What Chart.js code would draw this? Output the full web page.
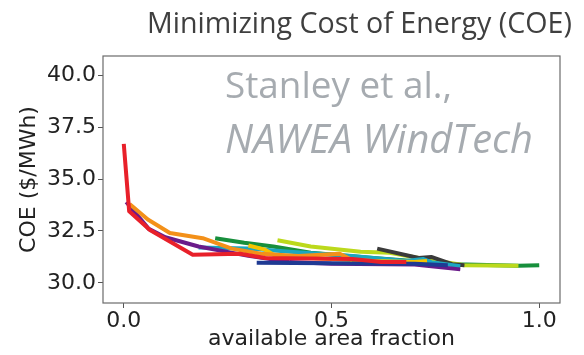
<!DOCTYPE html>
<html>
<head>
<meta charset="utf-8">
<script src="https://cdn.jsdelivr.net/npm/chart.js@4/dist/chart.umd.min.js"></script>
<style>
  html, body { margin: 0; padding: 0; background: #fff; }
</style>
</head>
<body>
<canvas id="chart" width="584" height="355"></canvas>
<script>
'use strict';

// curves: available area fraction vs COE ($/MWh)
const redX    = [0.0, 0.013, 0.063, 0.166, 0.28, 0.34, 0.55, 0.62, 0.68];
const redY    = [36.7, 33.45, 32.55, 31.35, 31.4, 31.2, 31.15, 31.0, 31.0];
const orangeX = [0.014, 0.058, 0.111, 0.19, 0.26, 0.33, 0.42, 0.52, 0.55];
const orangeY = [33.8, 33.05, 32.4, 32.15, 31.65, 31.4, 31.3, 31.4, 31.1];
const purpleX = [0.006, 0.06, 0.10, 0.18, 0.3, 0.4, 0.5, 0.7, 0.81];
const purpleY = [33.9, 32.6, 32.2, 31.75, 31.3, 31.0, 30.92, 30.88, 30.65];
const blueX   = [0.32, 0.5, 0.7, 0.78];
const blueY   = [30.97, 30.95, 30.92, 30.85];
const goldX   = [0.30, 0.34, 0.37, 0.45, 0.6, 0.7, 0.73];
const goldY   = [31.8, 31.6, 31.25, 31.2, 31.05, 31.0, 31.05];
const tealX   = [0.18, 0.3, 0.4, 0.55, 0.68, 0.72, 0.74, 0.81];
const tealY   = [31.7, 31.65, 31.5, 31.3, 31.05, 31.15, 31.0, 30.8];
const grayX   = [0.61, 0.71, 0.74, 0.79, 0.82];
const grayY   = [31.65, 31.2, 31.25, 30.9, 30.85];
const limeX   = [0.37, 0.45, 0.57, 0.64, 0.71, 0.82, 0.95];
const limeY   = [32.05, 31.75, 31.5, 31.45, 31.2, 30.85, 30.82];
const greenX  = [0.22, 0.29, 0.36, 0.45, 0.6, 0.8, 0.95, 1.0];
const greenY  = [32.15, 31.93, 31.75, 31.45, 31.2, 30.9, 30.82, 30.85];

const xTicks = [0.0, 0.5, 1.0];
const yTicks = [30.0, 32.5, 35.0, 37.5, 40.0];

const titleText = 'Minimizing Cost of Energy (COE)';
const noteLines = ['Stanley et al.,', 'NAWEA WindTech'];

function pts(xs, ys) {
    return xs.map((x, i) => ({x: x, y: ys[i]}));
}

function series(xs, ys, color) {
    return {
        data: pts(xs, ys),
        borderColor: color,
        backgroundColor: color,
        borderWidth: 4,
        pointRadius: 0,
        tension: 0,
        borderJoinStyle: 'round',
        borderCapStyle: 'butt',
    };
}

// fit a font size so a string spans the width it has in the picture
function fitFont(ctx, text, style, family, width) {
    ctx.font = style + ' 30px ' + family;
    let w = ctx.measureText(text).width;
    return style + ' ' + (30 * width / w).toFixed(2) + 'px ' + family;
}

let framePlugin = {
    id: 'frame',
    afterDraw: function(chart) {
        let ctx = chart.ctx;
        let a = chart.chartArea;
        ctx.save();
        ctx.strokeStyle = '#6b6b6b';
        ctx.lineWidth = 1.2;
        ctx.strokeRect(a.left, a.top, a.right - a.left, a.bottom - a.top);

        ctx.fillStyle = '#3f3f3f';
        ctx.textBaseline = 'alphabetic';
        ctx.textAlign = 'left';
        ctx.font = fitFont(ctx, titleText, 'normal', '"Open Sans"', 425);
        ctx.fillText(titleText, 147, 33);

        ctx.fillStyle = '#a6abb0';
        ctx.font = fitFont(ctx, noteLines[0], 'normal', '"Open Sans"', 227);
        ctx.fillText(noteLines[0], 225, 98);
        ctx.font = fitFont(ctx, noteLines[1], 'italic', '"Open Sans"', 308);
        ctx.fillText(noteLines[1], 225, 153);
        ctx.restore();
    }
};

const font = {family: '"DejaVu Sans"', size: 22};

new Chart(document.getElementById('chart'), {
    type: 'line',
    data: {
        datasets: [
            series(redX, redY, '#e8202a'),
            series(orangeX, orangeY, '#f39019'),
            series(blueX, blueY, '#1f3a93'),
            series(purpleX, purpleY, '#6a1b8a'),
            series(goldX, goldY, '#f6c400'),
            series(tealX, tealY, '#1ba6c0'),
            series(grayX, grayY, '#3a3a3a'),
            series(limeX, limeY, '#bcd91c'),
            series(greenX, greenY, '#178f3c'),
        ]
    },
    options: {
        responsive: false,
        animation: false,
        devicePixelRatio: 1,
        layout: {padding: {left: 0, right: 24, top: 56, bottom: 0}},
        plugins: {legend: {display: false}, tooltip: {enabled: false}, title: {display: false}},
        scales: {
            x: {
                type: 'linear',
                min: -0.05,
                max: 1.05,
                afterBuildTicks: (scale) => { scale.ticks = xTicks.map(v => ({value: v})); },
                afterFit: (scale) => { scale.height = 52; },
                grid: {drawOnChartArea: false, drawTicks: true, tickLength: 5, color: '#555'},
                border: {display: false},
                ticks: {
                    font: font, color: '#222', padding: 0, maxRotation: 0,
                    callback: (v) => Number(v).toFixed(1),
                },
                title: {display: true, text: 'available area fraction', font: font, color: '#222', padding: {top: 0, bottom: 3}},
            },
            y: {
                type: 'linear',
                min: 29.03,
                max: 40.93,
                afterBuildTicks: (scale) => { scale.ticks = yTicks.map(v => ({value: v})); },
                afterFit: (scale) => { scale.width = 103; },
                grid: {drawOnChartArea: false, drawTicks: true, tickLength: 5, color: '#555'},
                border: {display: false},
                ticks: {
                    font: font, color: '#222', padding: 2,
                    callback: (v) => Number(v).toFixed(1),
                },
                title: {display: true, text: 'COE ($/MWh)', font: font, color: '#222', padding: {top: 16, bottom: 0}},
            }
        }
    },
    plugins: [framePlugin]
});
</script>
</body>
</html>
